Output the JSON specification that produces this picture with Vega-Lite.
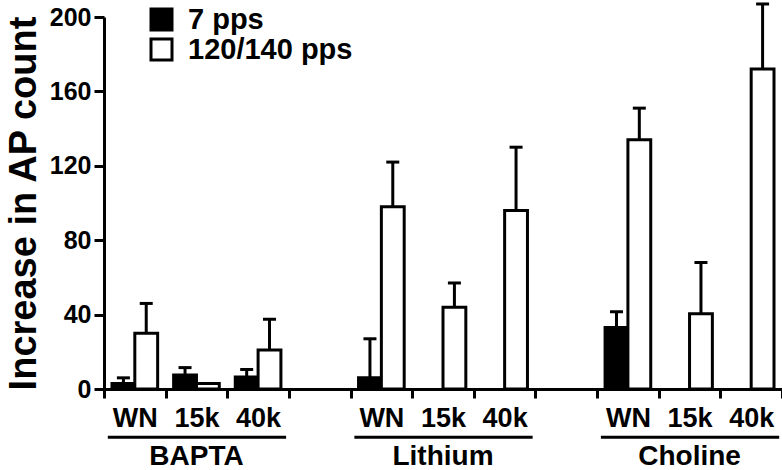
{
  "$schema": "https://vega.github.io/schema/vega-lite/v6.json",
  "width": 678,
  "height": 372,
  "autosize": {"type": "none"},
  "padding": {"left": 104, "top": 17, "right": 0, "bottom": 81},
  "background": "white",
  "config": {
    "view": {"stroke": null},
    "font": "Liberation Sans",
    "axis": {
      "domainColor": "black", "domainWidth": 3, "tickColor": "black", "tickWidth": 3,
      "labelColor": "black", "labelFont": "Liberation Sans", "labelFontWeight": "bold",
      "titleFont": "Liberation Sans", "titleFontWeight": "bold", "titleColor": "black",
      "grid": false, "labelOverlap": false
    },
    "axisY": {"tickCount": 10, "labelOverlap": false}
  },
  "datasets": {
    "bars": [
      {"cond": "BAPTA WN", "freq": "7 pps", "value": 3, "upper": 6},
      {"cond": "BAPTA WN", "freq": "120/140 pps", "value": 30, "upper": 46},
      {"cond": "BAPTA 15k", "freq": "7 pps", "value": 7.5, "upper": 11.5},
      {"cond": "BAPTA 15k", "freq": "120/140 pps", "value": 3},
      {"cond": "BAPTA 40k", "freq": "7 pps", "value": 6.5, "upper": 10.5},
      {"cond": "BAPTA 40k", "freq": "120/140 pps", "value": 21, "upper": 37.5},
      {"cond": "Lithium WN", "freq": "7 pps", "value": 6, "upper": 27},
      {"cond": "Lithium WN", "freq": "120/140 pps", "value": 98, "upper": 122},
      {"cond": "Lithium 15k", "freq": "120/140 pps", "value": 44, "upper": 57},
      {"cond": "Lithium 40k", "freq": "120/140 pps", "value": 96, "upper": 130},
      {"cond": "Choline WN", "freq": "7 pps", "value": 33, "upper": 41.5},
      {"cond": "Choline WN", "freq": "120/140 pps", "value": 134, "upper": 151},
      {"cond": "Choline 15k", "freq": "120/140 pps", "value": 40.5, "upper": 68},
      {"cond": "Choline 40k", "freq": "120/140 pps", "value": 172, "upper": 207}
    ],
    "groups": [
      {"group": "BAPTA", "first": "BAPTA WN", "mid": "BAPTA 15k", "last": "BAPTA 40k"},
      {"group": "Lithium", "first": "Lithium WN", "mid": "Lithium 15k", "last": "Lithium 40k"},
      {"group": "Choline", "first": "Choline WN", "mid": "Choline 15k", "last": "Choline 40k"}
    ]
  },
  "encoding": {
    "x": {
      "field": "cond", "type": "nominal", "title": null,
      "scale": {
        "domain": ["BAPTA WN", "BAPTA 15k", "BAPTA 40k", "gap1", "Lithium WN", "Lithium 15k", "Lithium 40k", "gap2", "Choline WN", "Choline 15k", "Choline 40k"],
        "paddingInner": 0, "paddingOuter": 0
      },
      "axis": {
        "labelExpr": "isString(datum.value) && indexof(datum.value, 'gap') < 0 ? split(datum.value, ' ')[1] : ''",
        "tickBand": "extent", "tickSize": 9, "labelFontSize": 27, "labelPadding": 7, "labelAngle": 0
      }
    }
  },
  "layer": [
    {
      "data": {"name": "bars"},
      "mark": {"type": "bar", "stroke": "black", "strokeWidth": 3},
      "encoding": {
        "xOffset": {"field": "freq", "type": "nominal", "scale": {"domain": ["7 pps", "120/140 pps"], "paddingOuter": 0.35, "paddingInner": 0}},
        "y": {
          "field": "value", "type": "quantitative", "title": "Increase in AP count",
          "scale": {"domain": [0, 200], "nice": false},
          "axis": {"values": [0, 20, 40, 60, 80, 100, 120, 140, 160, 180, 200], "tickCount": 10, "labelOverlap": false, "tickSize": 10, "labelFontSize": 25, "labelPadding": 3, "titleFontSize": 38, "titlePadding": 6}
        },
        "fill": {
          "field": "freq", "type": "nominal",
          "scale": {"domain": ["7 pps", "120/140 pps"], "range": ["black", "white"]},
          "legend": {
            "title": null, "orient": "none", "legendX": 43, "legendY": -10, "direction": "vertical",
            "symbolType": "square", "symbolSize": 441, "symbolStrokeColor": "black", "symbolStrokeWidth": 3,
            "labelFont": "Liberation Sans", "labelFontWeight": "bold", "labelFontSize": 29, "labelColor": "black",
            "labelOffset": 12, "labelLimit": 400, "clipHeight": 25, "rowPadding": 0, "padding": 0
          }
        }
      }
    },
    {
      "data": {"name": "bars"},
      "transform": [{"filter": "isValid(datum.upper)"}],
      "mark": {"type": "rule", "color": "black", "strokeWidth": 3},
      "encoding": {
        "xOffset": {"field": "freq", "type": "nominal", "scale": {"domain": ["7 pps", "120/140 pps"], "paddingOuter": 0.35, "paddingInner": 0}},
        "y": {
          "field": "value", "type": "quantitative", "title": "Increase in AP count",
          "axis": {"values": [0, 20, 40, 60, 80, 100, 120, 140, 160, 180, 200], "tickCount": 10, "labelOverlap": false, "tickSize": 10, "labelFontSize": 25, "labelPadding": 3, "titleFontSize": 38, "titlePadding": 6}
        },
        "y2": {"field": "upper"}
      }
    },
    {
      "data": {"name": "bars"},
      "transform": [{"filter": "isValid(datum.upper)"}],
      "mark": {"type": "tick", "color": "black", "thickness": 3, "size": 13, "opacity": 1},
      "encoding": {
        "xOffset": {"field": "freq", "type": "nominal", "scale": {"domain": ["7 pps", "120/140 pps"], "paddingOuter": 0.35, "paddingInner": 0}},
        "y": {
          "field": "upper", "type": "quantitative", "title": "Increase in AP count",
          "axis": {"values": [0, 20, 40, 60, 80, 100, 120, 140, 160, 180, 200], "tickCount": 10, "labelOverlap": false, "tickSize": 10, "labelFontSize": 25, "labelPadding": 3, "titleFontSize": 38, "titlePadding": 6}
        }
      }
    },
    {
      "data": {"name": "groups"},
      "mark": {"type": "rule", "color": "black", "strokeWidth": 3, "xOffset": -27, "x2Offset": 28},
      "encoding": {
        "x": {"field": "first", "type": "nominal"},
        "x2": {"field": "last"},
        "y": {
          "datum": -26, "type": "quantitative", "title": "Increase in AP count",
          "axis": {"values": [0, 20, 40, 60, 80, 100, 120, 140, 160, 180, 200], "tickCount": 10, "labelOverlap": false, "tickSize": 10, "labelFontSize": 25, "labelPadding": 3, "titleFontSize": 38, "titlePadding": 6}
        }
      }
    },
    {
      "data": {"name": "groups"},
      "mark": {"type": "text", "color": "black", "font": "Liberation Sans", "fontWeight": "bold", "fontSize": 28, "baseline": "middle", "align": "center"},
      "encoding": {
        "x": {"field": "mid", "type": "nominal"},
        "y": {
          "datum": -36.8, "type": "quantitative", "title": "Increase in AP count",
          "axis": {"values": [0, 20, 40, 60, 80, 100, 120, 140, 160, 180, 200], "tickCount": 10, "labelOverlap": false, "tickSize": 10, "labelFontSize": 25, "labelPadding": 3, "titleFontSize": 38, "titlePadding": 6}
        },
        "text": {"field": "group"}
      }
    }
  ]
}
